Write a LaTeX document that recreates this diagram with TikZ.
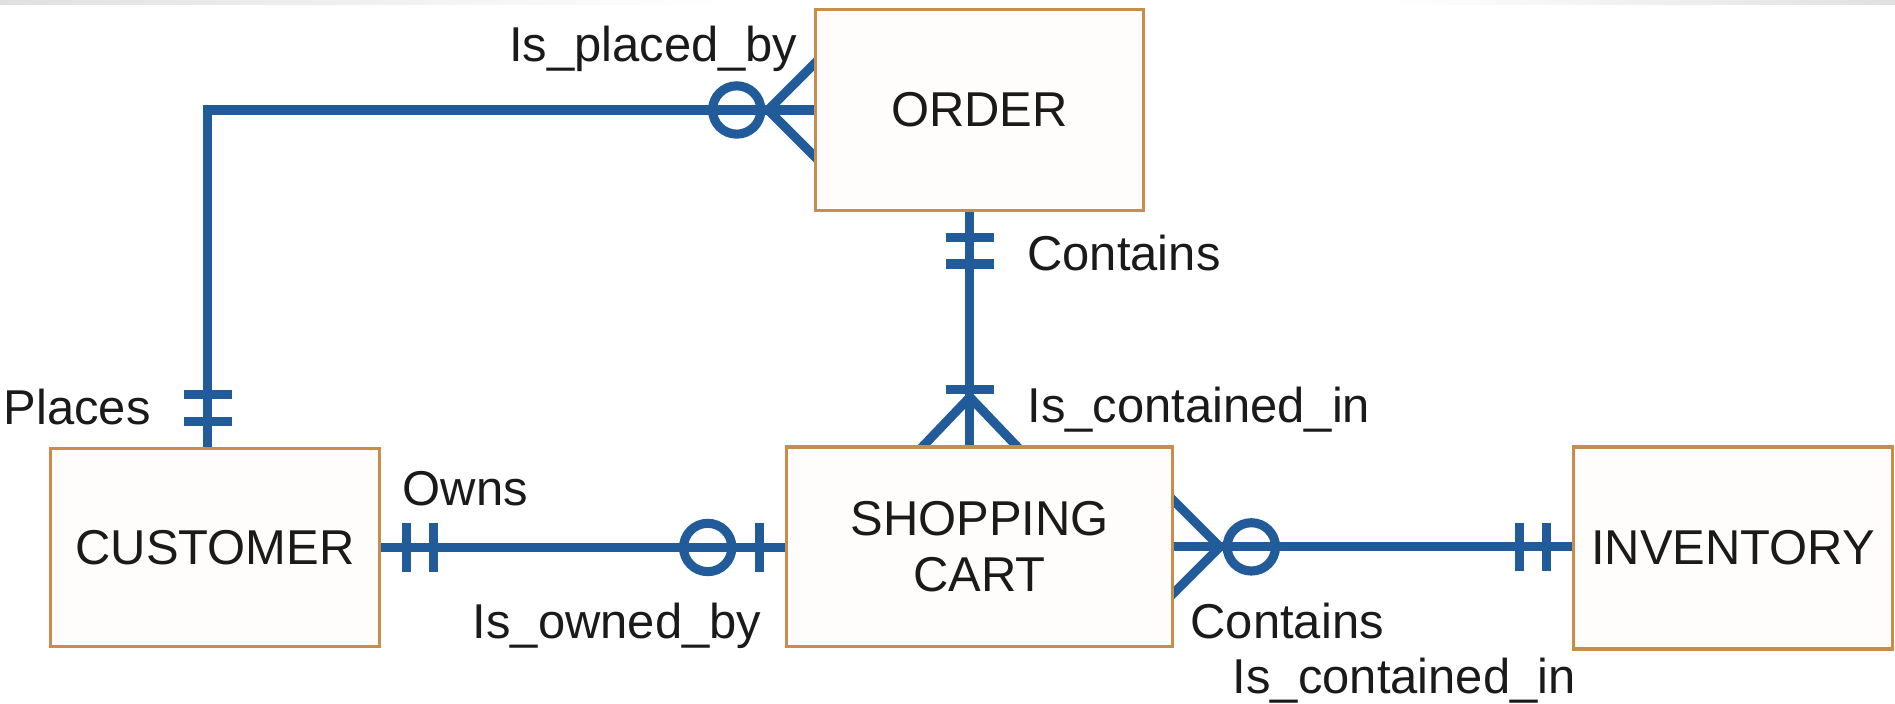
\documentclass[tikz,border=0pt]{standalone}
\usepackage{fontspec}
\setmainfont{Liberation Sans}
\usetikzlibrary{calc}
\definecolor{erblue}{RGB}{34,91,154}
\definecolor{erborder}{RGB}{200,140,75}
\definecolor{erfill}{RGB}{254,253,251}
\definecolor{ertext}{RGB}{26,26,26}
\pgfdeclarelayer{bg}
\pgfsetlayers{bg,main}
\begin{document}
\begin{tikzpicture}[x=0.5mm,y=0.5mm,
  entity/.style={draw=erborder, line width=4pt, fill=erfill, inner sep=0pt, align=center, text=ertext,
    font=\fontsize{57.6pt}{65.4pt}\selectfont},
  rel/.style={draw=erblue, line width=10.7pt},
  lbl/.style={inner sep=0pt, text=ertext, font=\fontsize{57.6pt}{65.4pt}\selectfont}]
\useasboundingbox (0,0) rectangle (1568,-581.7);
\shade[left color=black!12, right color=white] (0,0) rectangle (600,-4);
\shade[left color=white, right color=black!12] (1150,0) rectangle (1568,-4);

\node[entity, minimum width=135.5mm, minimum height=83mm] (order) at (810.5,-91) {ORDER};
\node[entity, minimum width=136mm, minimum height=82mm] (cust) at (178,-453) {CUSTOMER};
\node[entity, minimum width=159.5mm, minimum height=82.5mm] (cart) at (810.5,-452.5) {SHOPPING\\CART};
\node[entity, minimum width=132mm, minimum height=83.5mm] (inv) at (1434,-453.5) {INVENTORY};

\begin{pgfonlayer}{bg}
% CUSTOMER -- ORDER
\coordinate (c1) at ($(cust.north)+(-6,0)$);
\draw[rel] (c1) |- (order.west);
\draw[rel] ($(c1)+(-20,21)$) -- ++(40,0);
\draw[rel] ($(c1)+(-20,43)$) -- ++(40,0);
\draw[rel] ($(order.west)+(-38,0)$) -- ($(order.west)+(5,43)$);
\draw[rel] ($(order.west)+(-38,0)$) -- ($(order.west)+(5,-43)$);
\draw[rel] ($(order.west)+(-64,0)$) circle[radius=20];
% ORDER -- CART
\coordinate (c2a) at ($(order.south)+(-8,0)$);
\coordinate (c2b) at ($(cart.north)+(-8,0)$);
\draw[rel] (c2a) -- (c2b);
\draw[rel] ($(c2a)+(-20,-21)$) -- ++(40,0);
\draw[rel] ($(c2a)+(-20,-43)$) -- ++(40,0);
\draw[rel] ($(c2b)+(0,40)$) -- ($(c2b)+(43,-5)$);
\draw[rel] ($(c2b)+(0,40)$) -- ($(c2b)+(-43,-5)$);
\draw[rel] ($(c2b)+(-20,46)$) -- ++(40,0);
% CUSTOMER -- CART
\coordinate (c3) at (cust.east -| cart.west);
\draw[rel] (cust.east) -- (c3);
\draw[rel] ($(cust.east)+(21,-20)$) -- ++(0,40);
\draw[rel] ($(cust.east)+(43,-20)$) -- ++(0,40);
\draw[rel] ($(c3)+(-64,0)$) circle[radius=20];
\draw[rel] ($(c3)+(-21,-20)$) -- ++(0,40);
% CART -- INVENTORY
\coordinate (c4) at (cart.east -| inv.west);
\draw[rel] (cart.east) -- (c4);
\draw[rel] ($(cart.east)+(38,0)$) -- ($(cart.east)+(-5,43)$);
\draw[rel] ($(cart.east)+(38,0)$) -- ($(cart.east)+(-5,-43)$);
\draw[rel] ($(cart.east)+(64,0)$) circle[radius=20];
\draw[rel] ($(c4)+(-21,-20)$) -- ++(0,40);
\draw[rel] ($(c4)+(-43,-20)$) -- ++(0,40);
\end{pgfonlayer}

\node[lbl, anchor=base east] (lpb) at (660,-51) {Is\_placed\_by};
\node[lbl, anchor=base west] (lpl) at (3,-351) {Places};
\node[lbl, anchor=base west] (lc1) at (850,-224) {Contains};
\node[lbl, anchor=base west] (lic1) at (850,-350) {Is\_contained\_in};
\node[lbl, anchor=base west] (low) at (333,-418) {Owns};
\node[lbl, anchor=base east] (lob) at (630,-528) {Is\_owned\_by};
\node[lbl, anchor=base west] (lc2) at (985,-528) {Contains};
\node[lbl, anchor=base west] (lic2) at (1020,-574) {Is\_contained\_in};
\end{tikzpicture}
\end{document}
